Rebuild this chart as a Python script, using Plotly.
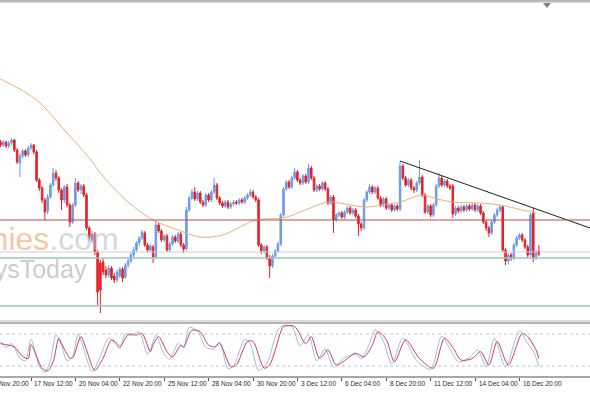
import plotly.graph_objects as go

# ---------------- data (prices stored as price x 10^4) ----------------
open_p = [11958,11955,11958,11954,11957,11960,11950,11937,11944,11949,11945,11952,11955,11948,11920,11912,11900,11889,11903,11915,
          11927,11922,11910,11900,11913,11895,11878,11895,11917,11910,11914,11905,11872,11860,11866,11848,11837,11838,11830,11825,
          11832,11824,11820,11824,11831,11823,11835,11839,11845,11850,11857,11862,11867,11855,11850,11853,11843,11875,11869,11860,
          11864,11850,11856,11863,11859,11866,11855,11851,11890,11902,11908,11901,11907,11898,11895,11905,11900,11908,11915,11902,
          11897,11894,11898,11893,11896,11898,11897,11900,11898,11902,11905,11908,11903,11900,11855,11849,11853,11842,11834,11844,
          11849,11856,11885,11911,11918,11913,11922,11928,11920,11917,11924,11918,11932,11922,11910,11914,11911,11917,11911,11897,
          11903,11880,11885,11887,11883,11888,11892,11887,11890,11884,11876,11872,11900,11908,11913,11908,11912,11902,11895,11901,
          11892,11895,11890,11894,11891,11934,11922,11915,11920,11912,11910,11917,11923,11905,11888,11894,11885,11895,11914,11922,
          11915,11919,11914,11914,11886,11892,11889,11893,11890,11894,11891,11895,11890,11894,11887,11878,11872,11867,11878,11885,
          11890,11893,11850,11839,11845,11842,11855,11862,11865,11860,11853,11845,11887,11842,11849]
high_p = [11960,11960,11959,11959,11962,11961,11952,11947,11951,11951,11954,11957,11956,11950,11922,11914,11902,11906,11917,11932,
          11930,11924,11912,11915,11916,11897,11897,11922,11919,11916,11916,11907,11874,11869,11868,11850,11840,11841,11834,11835,
          11834,11827,11830,11833,11833,11837,11842,11848,11853,11859,11864,11870,11869,11857,11856,11855,11880,11878,11871,11866,
          11866,11858,11865,11865,11868,11868,11857,11893,11904,11911,11913,11909,11909,11900,11907,11907,11910,11922,11917,11904,
          11899,11900,11900,11898,11900,11900,11902,11902,11904,11907,11911,11910,11905,11902,11857,11855,11855,11845,11846,11851,
          11858,11887,11913,11920,11920,11924,11932,11930,11922,11926,11926,11936,11934,11924,11916,11916,11919,11919,11913,11905,
          11905,11887,11889,11889,11890,11894,11894,11892,11892,11886,11878,11902,11910,11916,11915,11914,11914,11904,11903,11903,
          11897,11897,11896,11896,11939,11936,11924,11922,11922,11914,11919,11940,11925,11907,11896,11896,11897,11916,11927,11924,
          11921,11921,11916,11916,11894,11894,11895,11895,11896,11896,11897,11897,11896,11896,11889,11880,11874,11880,11887,11892,
          11895,11895,11852,11847,11847,11857,11864,11867,11867,11862,11855,11887,11892,11850,11855]
low_p = [11953,11953,11952,11952,11955,11948,11936,11923,11942,11943,11943,11950,11946,11918,11909,11897,11880,11886,11901,11913,
         11919,11907,11890,11897,11893,11873,11876,11893,11908,11906,11903,11870,11859,11857,11845,11795,11787,11825,11822,11823,
         11820,11817,11818,11822,11818,11821,11832,11837,11842,11848,11854,11860,11853,11847,11848,11837,11841,11867,11858,11858,
         11848,11848,11854,11857,11857,11853,11847,11849,11888,11900,11899,11899,11896,11893,11893,11898,11898,11906,11900,11895,
         11892,11892,11891,11891,11894,11895,11895,11896,11896,11900,11903,11901,11898,11853,11846,11847,11840,11822,11832,11842,
         11847,11854,11883,11909,11911,11911,11920,11918,11915,11915,11916,11916,11920,11908,11908,11909,11909,11909,11895,11895,
         11867,11878,11883,11881,11881,11886,11885,11885,11882,11864,11869,11870,11898,11906,11906,11906,11900,11893,11893,11890,
         11890,11888,11888,11889,11889,11920,11913,11913,11910,11907,11908,11915,11903,11886,11886,11883,11883,11893,11912,11913,
         11913,11912,11910,11882,11884,11887,11887,11888,11888,11889,11889,11888,11888,11885,11876,11869,11863,11865,11876,11883,
         11888,11848,11835,11836,11839,11840,11853,11860,11858,11851,11842,11843,11838,11840,11844]
close_p = [11955,11958,11954,11957,11960,11950,11938,11944,11949,11945,11952,11955,11948,11920,11912,11900,11888,11903,11915,11927,
           11922,11910,11900,11913,11895,11878,11895,11917,11910,11914,11905,11872,11862,11866,11848,11808,11810,11828,11825,11832,
           11822,11820,11828,11831,11822,11835,11839,11845,11850,11857,11862,11868,11855,11850,11854,11843,11875,11869,11860,11864,
           11850,11856,11863,11859,11866,11855,11851,11890,11902,11908,11901,11907,11898,11895,11905,11900,11908,11915,11902,11897,
           11894,11898,11893,11896,11898,11897,11900,11898,11902,11905,11908,11903,11900,11855,11849,11853,11842,11834,11844,11849,
           11856,11885,11911,11918,11913,11922,11928,11920,11917,11924,11918,11932,11922,11910,11914,11911,11917,11911,11897,11903,
           11880,11885,11887,11883,11888,11892,11887,11890,11884,11876,11872,11900,11908,11913,11908,11912,11902,11895,11901,11892,
           11895,11890,11894,11891,11934,11922,11915,11920,11912,11910,11917,11923,11905,11888,11894,11885,11895,11914,11922,11915,
           11919,11914,11912,11886,11892,11889,11893,11890,11894,11891,11895,11890,11894,11887,11878,11872,11867,11878,11885,11890,
           11893,11850,11839,11845,11842,11855,11862,11865,11860,11853,11845,11885,11842,11848,11846]

# moving average read at selected bars
ma_bar = [0, 13, 23, 32, 36, 46, 55, 64, 72, 80, 92, 102, 108, 118, 122, 132, 137, 144, 152, 156, 163, 173, 180, 188, 193]
ma_val = [1.2021, 1.2000, 1.1970, 1.1942, 1.1927, 1.1898, 1.1880, 1.1870, 1.1863, 1.1865, 1.1880, 1.1882, 1.1888,
          1.1898, 1.1897, 1.1893, 1.1895, 1.1898, 1.1905, 1.1902, 1.1898, 1.1897, 1.1895, 1.1890, 1.1887]

# stochastic oscillator (%D signal, red) and %K (light blue)
d_bar = [0, 3, 5, 8, 10, 11, 15, 17, 19, 21, 22, 25, 26, 29, 31, 34, 37, 40, 42, 43, 46, 49, 51, 54, 55, 57, 60, 62, 65, 66,
         69, 72, 75, 77, 79, 83, 85, 89, 91, 95, 97, 101, 102, 106, 110, 112, 115, 118, 121, 125, 128, 131, 134, 136, 139, 142,
         146, 151, 156, 160, 163, 166, 170, 173, 176, 179, 183, 188, 190, 193, 194]
d_val = [62, 59, 56, 38, 34, 60, 16, 11, 28, 72, 62, 35, 35, 75, 50, 12, 35, 69, 62, 56, 78, 78, 81, 47, 60, 75, 47, 37, 59, 56,
         87, 84, 59, 56, 62, 19, 22, 66, 66, 16, 22, 84, 94, 94, 62, 75, 34, 50, 22, 34, 44, 37, 59, 84, 70, 28,
         69, 34, 16, 72, 55, 31, 34, 47, 22, 66, 22, 81, 75, 50, 34]
k_bar = [0, 2, 4, 7, 9, 11, 14, 16, 18, 20, 22, 24, 26, 28, 30, 33, 36, 39, 42, 43, 45, 48, 50, 53, 55, 56, 59, 61, 64, 66,
         68, 71, 74, 77, 79, 82, 84, 88, 90, 93, 96, 100, 102, 105, 108, 111, 114, 117, 120, 124, 128, 130, 133, 135, 138, 141,
         145, 150, 155, 159, 162, 165, 169, 172, 175, 178, 182, 187, 190, 192, 194]
k_val = [66, 55, 62, 35, 30, 70, 20, 8, 30, 78, 58, 30, 38, 80, 52, 10, 38, 72, 58, 52, 80, 80, 84, 42, 65, 78, 42, 33, 62, 54,
         92, 86, 55, 52, 65, 15, 20, 70, 62, 12, 25, 88, 96, 94, 58, 78, 30, 52, 18, 36, 42, 34, 62, 88, 66, 24,
         72, 30, 14, 76, 52, 28, 36, 50, 18, 72, 18, 86, 62, 48, 20]

# horizontal levels and trend line
red_level = 1.1880
gray_level = 1.1848
teal_levels = [1.1842, 1.1794]
trend_bar = [144, 192]
trend_val = [1.1939, 1.1892]

tick_bar = [-5, 11, 27, 43, 59, 75, 91, 107, 123, 139, 155, 171, 187]
tick_text = ["14 Nov 20:00", "17 Nov 12:00", "20 Nov 04:00", "22 Nov 20:00", "25 Nov 12:00", "28 Nov 04:00",
             "30 Nov 20:00", "3 Dec 12:00", "6 Dec 04:00", "8 Dec 20:00", "11 Dec 12:00", "14 Dec 04:00", "16 Dec 20:00"]

# ---------------- figure ----------------
W, H = 590, 393
def py(p):
    return 1 - p / H

bars = list(range(len(open_p)))
o = [v / 1e4 for v in open_p]
h = [v / 1e4 for v in high_p]
l = [v / 1e4 for v in low_p]
c = [v / 1e4 for v in close_p]

XR = [-0.171, 212.44]
BLUE = "#6f9be6"
RED = "#e42228"

fig = go.Figure()
fig.add_trace(go.Candlestick(
    x=bars, open=o, high=h, low=l, close=c,
    increasing=dict(line=dict(color=BLUE, width=1), fillcolor=BLUE),
    decreasing=dict(line=dict(color=RED, width=1), fillcolor=RED),
    whiskerwidth=0, showlegend=False, hoverinfo="skip", xaxis="x", yaxis="y"))
fig.add_trace(go.Scatter(x=ma_bar, y=ma_val, mode="lines", line=dict(color="#e3b274", width=1, shape="spline"),
                         showlegend=False, hoverinfo="skip", xaxis="x", yaxis="y"))
# trend line extended to the right edge
slope = (trend_val[1] - trend_val[0]) / (trend_bar[1] - trend_bar[0])
tx = [trend_bar[0], XR[1]]
ty = [trend_val[0], trend_val[0] + slope * (XR[1] - trend_bar[0])]
fig.add_trace(go.Scatter(x=tx, y=ty, mode="lines", line=dict(color="#1e1e1e", width=1),
                         showlegend=False, hoverinfo="skip", xaxis="x", yaxis="y"))

fig.add_trace(go.Scatter(x=k_bar, y=k_val, mode="lines", line=dict(color="#a3b8e4", width=1, shape="spline", smoothing=0.8),
                         showlegend=False, hoverinfo="skip", xaxis="x2", yaxis="y2"))
fig.add_trace(go.Scatter(x=d_bar, y=d_val, mode="lines", line=dict(color="#c8405a", width=1, shape="spline", smoothing=0.8),
                         showlegend=False, hoverinfo="skip", xaxis="x2", yaxis="y2"))

shapes = []
# horizontal levels
shapes.append(dict(type="line", xref="paper", yref="y", x0=0, x1=1, y0=red_level, y1=red_level,
                   line=dict(color="#bb4a4a", width=1)))
shapes.append(dict(type="line", xref="paper", yref="y", x0=0, x1=1, y0=gray_level, y1=gray_level,
                   line=dict(color="#cfcfcf", width=1)))
for lv in teal_levels:
    shapes.append(dict(type="line", xref="paper", yref="y", x0=0, x1=1, y0=lv, y1=lv,
                       line=dict(color="#9cc7bb", width=1.5)))
# stochastic 20/80 levels
for lv in (20, 80):
    shapes.append(dict(type="line", xref="paper", yref="y2", x0=0, x1=1, y0=lv, y1=lv,
                       line=dict(color="#c4c4c4", width=1, dash="dot")))
# frame lines
shapes.append(dict(type="rect", xref="paper", yref="paper", x0=0, x1=1, y0=py(2.5), y1=1,
                   fillcolor="#b9b9b9", line=dict(width=0)))
shapes.append(dict(type="line", xref="paper", yref="paper", x0=0, x1=1, y0=py(321), y1=py(321),
                   line=dict(color="#bdbdbd", width=1)))
shapes.append(dict(type="line", xref="paper", yref="paper", x0=0, x1=1, y0=py(323), y1=py(323),
                   line=dict(color="#6a6a6a", width=1)))
shapes.append(dict(type="line", xref="paper", yref="paper", x0=0, x1=1, y0=py(377), y1=py(377),
                   line=dict(color="#505050", width=1)))
# chart shift marker
shapes.append(dict(type="path", xref="paper", yref="paper",
                   path=f"M {543/W},{py(3)} L {551/W},{py(3)} L {547/W},{py(8)} Z",
                   fillcolor="#808080", line=dict(width=0)))

annotations = []
def xpaper(b):
    return (b - XR[0]) / (XR[1] - XR[0])
for b, t in zip(tick_bar, tick_text):
    annotations.append(dict(xref="paper", yref="paper", x=xpaper(b) + 1.5 / W, y=py(383.5), text=t,
                            showarrow=False, xanchor="left", yanchor="middle",
                            font=dict(family="Liberation Sans, Arial", size=6.5, color="#2a2a2a")))
# watermark
WM_FONT = "Liberation Sans, Arial"
annotations.append(dict(xref="paper", yref="paper", x=121 / W, y=py(259), xanchor="right", yanchor="bottom",
                        showarrow=False,
                        text='<span style="color:rgba(240,160,105,0.6)">Economies</span><span style="color:rgba(190,190,190,0.6)">.com</span>',
                        font=dict(family=WM_FONT, size=32)))
annotations.append(dict(xref="paper", yref="paper", x=89 / W, y=py(285), xanchor="right", yanchor="bottom",
                        showarrow=False, text="EverydaysToday",
                        font=dict(family=WM_FONT, size=25, color="rgba(160,160,160,0.55)")))

fig.update_layout(
    width=W, height=H, margin=dict(l=0, r=0, t=0, b=0),
    paper_bgcolor="white", plot_bgcolor="white", boxgap=0.2,
    shapes=shapes, annotations=annotations,
    xaxis=dict(domain=[0, 1], range=XR, anchor="y", showgrid=False, zeroline=False, showticklabels=False,
               ticks="", rangeslider=dict(visible=False), showline=False),
    yaxis=dict(domain=[py(320), py(3)], range=[1.1780, 1.2097], showgrid=False, zeroline=False,
               showticklabels=False, ticks="", showline=False),
    xaxis2=dict(domain=[0, 1], range=XR, anchor="y2", matches="x", showgrid=False, zeroline=False,
                showticklabels=False, tickmode="array", tickvals=tick_bar, ticks="outside", ticklen=3,
                tickcolor="#555555", tickwidth=1, showline=False),
    yaxis2=dict(domain=[py(376.7), py(323.3)], range=[0, 100], showgrid=False, zeroline=False,
                showticklabels=False, ticks="", showline=False),
)

fig.write_html("out.html")
